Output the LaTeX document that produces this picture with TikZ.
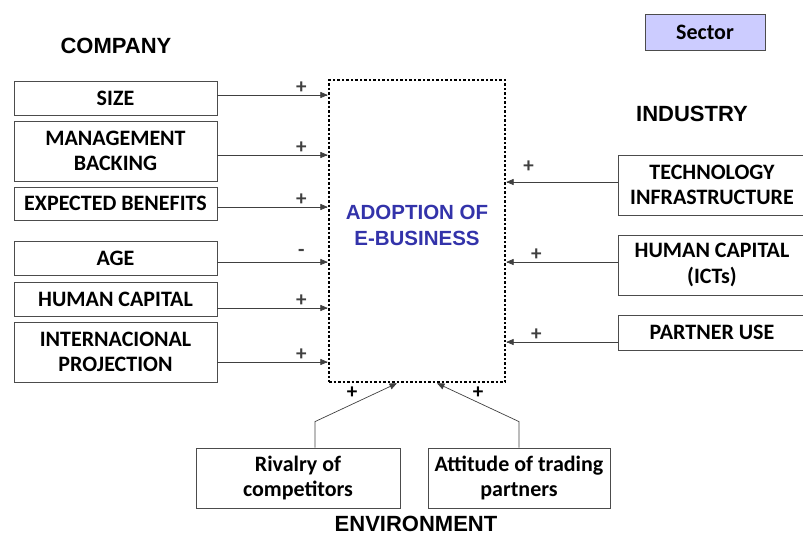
\documentclass[tikz,border=0pt]{standalone}
\usepackage{fontspec}
\setmainfont{Carlito}
\newfontfamily\headfont{Liberation Sans}
\usepackage{tikz}
\usetikzlibrary{arrows}
\definecolor{adoptblue}{RGB}{51,51,170}
\definecolor{sectorfill}{RGB}{204,204,255}
\tikzstyle{block} = [rectangle, draw=black!70, line width=0.8pt, fill=white,
    align=center, inner sep=0pt, font=\bfseries\fontsize{22}{25.5}\selectfont]
\tikzstyle{lblock} = [block, minimum width=203pt]
\tikzstyle{rblock} = [block, minimum width=188pt]
\tikzstyle{head} = [font=\headfont\bfseries\fontsize{22}{25}\selectfont]
\tikzstyle{adopt} = [rectangle, draw, line width=2.5pt, dash pattern=on 2.5pt off 2pt,
    align=center, text=adoptblue, font=\headfont\bfseries\fontsize{20.5}{26}\selectfont]
\tikzstyle{line} = [draw, black!75, line width=0.7pt, -triangle 45]
\tikzstyle{sign} = [font=\bfseries\fontsize{21}{21}\selectfont, inner sep=1pt]

\begin{document}
\begin{tikzpicture}[x=1pt, y=-1pt]
  \useasboundingbox (0,0) rectangle (803,536);
  % Place nodes
  \node [head] (company) at (116,46) {COMPANY};
  \node [head] (industry) at (692,114) {INDUSTRY};
  \node [head] (environment) at (416,524) {ENVIRONMENT};
  \node [block, fill=sectorfill, minimum width=120pt, minimum height=36pt] (sector) at (705,32) {Sector};
  \node [adopt, minimum width=176pt, minimum height=302pt] (adoption) at (417,231) {ADOPTION OF\\E-BUSINESS\\[-14pt]\mbox{}};
  \node [lblock, minimum height=34pt] (size) at (115.5,98) {SIZE};
  \node [lblock, minimum height=60pt] (backing) at (115.5,151) {MANAGEMENT\\BACKING};
  \node [lblock, minimum height=33pt] (benefits) at (115.5,203.5) {EXPECTED BENEFITS};
  \node [lblock, minimum height=34pt] (age) at (115.5,258) {AGE};
  \node [lblock, minimum height=34pt] (human) at (115.5,299) {HUMAN CAPITAL};
  \node [lblock, minimum height=60pt] (projection) at (115.5,352) {INTERNACIONAL\\PROJECTION};
  \node [rblock, minimum height=60pt] (technology) at (712,185) {TECHNOLOGY\\INFRASTRUCTURE};
  \node [rblock, minimum height=60pt] (ictcapital) at (712,265) {HUMAN CAPITAL\\(ICTs)};
  \node [rblock, minimum height=35pt] (partner) at (712,332.5) {PARTNER USE};
  \node [block, minimum width=204pt, minimum height=60pt] (rivalry) at (298,478) {Rivalry of\\competitors};
  \node [block, minimum width=182pt, minimum height=60pt] (attitude) at (519,478) {Attitude of trading\\partners};
  % Draw edges
  \path[line] ([yshift=3pt]size.east) -- node[sign, above, pos=.76] (s1) {+} ([yshift=3pt]size.east -| adoption.west);
  \path[line] ([yshift=-4pt]backing.east) -- node[sign, above, pos=.76] (s2) {+} ([yshift=-4pt]backing.east -| adoption.west);
  \path[line] ([yshift=-3.5pt]benefits.east) -- node[sign, above, pos=.76] (s3) {+} ([yshift=-3.5pt]benefits.east -| adoption.west);
  \path[line] ([yshift=-4pt]age.east) -- node[sign, above=4pt, pos=.76] (s4) {-} ([yshift=-4pt]age.east -| adoption.west);
  \path[line] ([yshift=-9pt]human.east) -- node[sign, above, pos=.76] (s5) {+} ([yshift=-9pt]human.east -| adoption.west);
  \path[line] ([yshift=-10pt]projection.east) -- node[sign, above, pos=.76] (s6) {+} ([yshift=-10pt]projection.east -| adoption.west);
  \path[line] ([yshift=3pt]technology.west) -- node[sign, above=8pt, pos=.8] (s7) {+} ([yshift=3pt]technology.west -| adoption.east);
  \path[line] ([yshift=3pt]ictcapital.west) -- node[sign, above, pos=.73] (s8) {+} ([yshift=3pt]ictcapital.west -| adoption.east);
  \path[line] ([yshift=-9.5pt]partner.west) -- node[sign, above, pos=.73] (s9) {+} ([yshift=-9.5pt]partner.west -| adoption.east);
  \path[line] ([xshift=17pt]rivalry.north) -- ++(0,-26) -- ([xshift=-20pt]adoption.south);
  \path[line] (attitude.north) -- ++(0,-26) -- ([xshift=20pt]adoption.south);
  \node [sign] (s10) at (352,393) {+};
  \node [sign] (s11) at (478,393) {+};

\end{tikzpicture}
\end{document}
